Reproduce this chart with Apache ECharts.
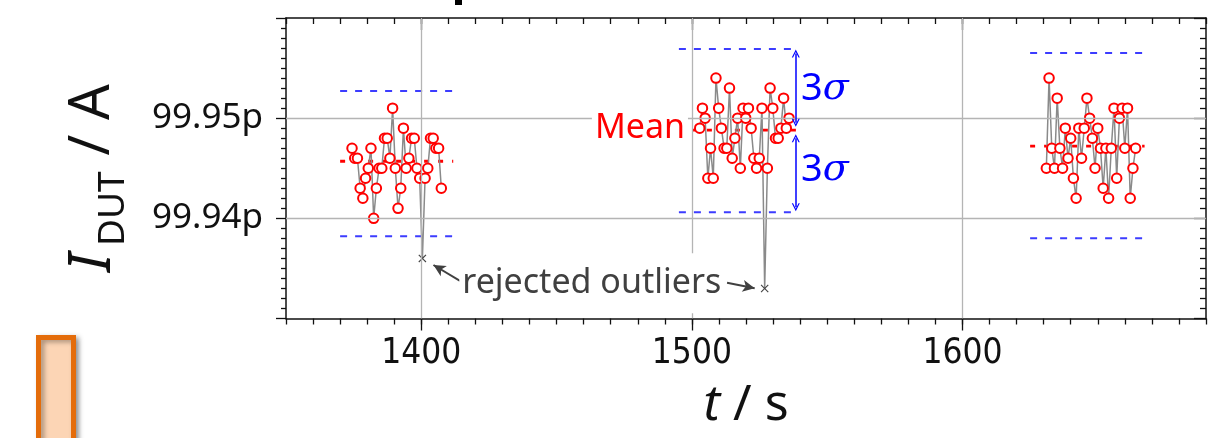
<!DOCTYPE html>
<html><head><meta charset="utf-8">
<script src="https://cdn.jsdelivr.net/npm/echarts@6/dist/echarts.min.js"></script>
<style>html,body{margin:0;padding:0;background:#fff}#c{width:1215px;height:438px}</style>
</head><body><div id="c"></div>
<script>
// ---------- data ----------
const xRange = [1350, 1690];
const yRange = [99.93, 99.96];
const xTickLabels = [1400, 1500, 1600];
const yTickValues = [99.94, 99.95];
const yTickLabels = ['99.94p', '99.95p'];

const t1 = [1374.4,1375.4,1376.4,1377.4,1378.4,1379.4,1380.4,1381.4,1382.4,1383.4,1384.4,1385.4,1386.4,1387.4,1388.4,1389.4,1390.4,1391.4,1392.4,1393.4,1394.4,1395.4,1396.4,1397.4,1398.4,1399.4,1400.4,1401.4,1402.4,1403.4,1404.4,1405.4,1406.4,1407.4];
const v1 = [99.947,99.946,99.946,99.943,99.942,99.944,99.945,99.947,99.940,99.943,99.945,99.945,99.948,99.948,99.946,99.951,99.945,99.941,99.943,99.949,99.945,99.946,99.948,99.948,99.945,99.944,99.936,99.944,99.945,99.948,99.948,99.947,99.947,99.943];
const t2 = [1502.9,1503.9,1504.9,1505.9,1506.9,1507.9,1508.9,1509.9,1510.9,1511.9,1512.9,1513.9,1514.9,1515.9,1516.9,1517.9,1518.9,1519.9,1520.9,1521.9,1522.9,1523.9,1524.9,1525.9,1526.9,1527.9,1528.9,1529.9,1530.9,1531.9,1532.9,1533.9,1534.9,1535.9];
const v2 = [99.949,99.951,99.950,99.944,99.947,99.944,99.954,99.951,99.949,99.947,99.947,99.953,99.946,99.948,99.950,99.945,99.951,99.950,99.951,99.949,99.946,99.945,99.946,99.951,99.933,99.945,99.953,99.951,99.948,99.948,99.949,99.952,99.949,99.950];
const t3 = [1631.0,1632.0,1633.0,1634.0,1635.0,1636.0,1637.0,1638.0,1639.0,1640.0,1641.0,1642.0,1643.0,1644.0,1645.0,1646.0,1647.0,1648.0,1649.0,1650.0,1651.0,1652.0,1653.0,1654.0,1655.0,1656.0,1657.0,1658.0,1659.0,1660.0,1661.0,1662.0,1663.0,1664.0];
const v3 = [99.945,99.954,99.947,99.945,99.952,99.947,99.945,99.949,99.946,99.948,99.944,99.942,99.949,99.946,99.949,99.952,99.950,99.948,99.945,99.949,99.947,99.943,99.947,99.942,99.947,99.951,99.944,99.950,99.951,99.947,99.951,99.942,99.945,99.947];
const outlierTimes = [1400.4, 1526.9];

const bandStart = [1370.0, 1495.2, 1625.0];
const bandEnd   = [1411.8, 1539.5, 1667.3];
const meanValues  = [99.9457, 99.9488, 99.9472];
const upperValues = [99.9527, 99.9569, 99.9565];
const lowerValues = [99.9382, 99.9406, 99.9380];

// annotation anchor points (data space)
const sigmaArrowT = 1538.4;
const sigmaUpperArrow = [99.95645, 99.94953];
const sigmaLowerArrow = [99.9480, 99.9411];
const outlierArrowLeft  = [[1414.3, 99.93376], [1404.5, 99.93534]];
const outlierArrowRight = [[1513.0, 99.93356], [1523.2, 99.93302]];
const meanLabelAt = [1480.8, 99.94895];
const sigmaLabelUpperAt = [1549.1, 99.9529];
const sigmaLabelLowerAt = [1549.1, 99.9448];
const outlierLabelAt = [1463.0, 99.93353];

// ---------- chart ----------
const FONT = "'Noto Sans', 'Open Sans', sans-serif";
const NARROW = "'Liberation Sans Narrow', 'DejaVu Sans Condensed', 'Roboto', sans-serif";
const chart = echarts.init(document.getElementById('c'));
const crossPath = 'path://M1,0L5,4L9,0L10,1L6,5L10,9L9,10L5,6L1,10L0,9L4,5L0,1Z';
const chevron = 'path://M0,10L5,0L10,10L8.4,10L5,3.2L1.6,10Z';

function clusterSeries(ts, vs) {
  return {
    type: 'line', xAxisIndex: 0, yAxisIndex: 0, z: 4,
    showAllSymbol: true, animation: false,
    lineStyle: { color: '#8a8a8a', width: 1.5 },
    itemStyle: { color: '#ff0000', borderWidth: 2 },
    symbol: 'emptyCircle', symbolSize: 9.5,
    data: ts.map((t, i) => {
      const out = outlierTimes.some(o => Math.abs(o - t) < 0.05);
      return out ? { value: [t, vs[i]], symbol: crossPath, symbolSize: 8,
                     itemStyle: { color: '#444', borderWidth: 0 } }
                 : { value: [t, vs[i]] };
    })
  };
}
function bandSeries(k, vals, color, dash, width) {
  return {
    type: 'line', xAxisIndex: 0, yAxisIndex: 0, z: 3, symbol: 'none', animation: false,
    lineStyle: { color: color, width: width, type: dash },
    data: [[bandStart[k], vals[k]], [bandEnd[k], vals[k]]]
  };
}

const series = [];
series.push({
  type: 'line', data: [], z: 1, silent: true,
  markLine: {
    silent: true, symbol: 'none', animation: false, label: { show: false },
    lineStyle: { color: '#b4b4b4', width: 1.3, type: 'solid' },
    data: xTickLabels.map(v => ({ xAxis: v })).concat(yTickValues.map(v => ({ yAxis: v })))
  }
});
for (let k = 0; k < 3; k++) {
  series.push(bandSeries(k, upperValues, '#3c3cff', [7, 8], 2));
  series.push(bandSeries(k, lowerValues, '#3c3cff', [7, 8], 2));
  series.push(bandSeries(k, meanValues, '#ff0000', [5, 9], 2.8));
}
series.push(clusterSeries(t1, v1));
series.push(clusterSeries(t2, v2));
series.push(clusterSeries(t3, v3));

const sigmaRich = {
  n: { fontSize: 38, color: '#0000ff', fontFamily: FONT },
  s: { fontSize: 38, color: '#0000ff', fontStyle: 'italic', fontFamily: "'DejaVu Serif', serif" }
};
series.push({
  type: 'line', data: [], z: 10, silent: true,
  markLine: {
    silent: true, animation: false, label: { show: false },
    data: [
      [{ coord: [sigmaArrowT, sigmaUpperArrow[0]], symbol: chevron, symbolSize: [8, 8], lineStyle: { color: '#0000ff', width: 1.5, type: 'solid' } },
       { coord: [sigmaArrowT, sigmaUpperArrow[1]], symbol: chevron, symbolSize: [8, 8] }],
      [{ coord: [sigmaArrowT, sigmaLowerArrow[0]], symbol: chevron, symbolSize: [8, 8], lineStyle: { color: '#0000ff', width: 1.5, type: 'solid' } },
       { coord: [sigmaArrowT, sigmaLowerArrow[1]], symbol: chevron, symbolSize: [8, 8] }],
      [{ coord: outlierArrowLeft[0], symbol: 'none', lineStyle: { color: '#404040', width: 2, type: 'solid' } },
       { coord: outlierArrowLeft[1], symbol: 'arrow', symbolSize: [9, 12] }],
      [{ coord: outlierArrowRight[0], symbol: 'none', lineStyle: { color: '#404040', width: 2, type: 'solid' } },
       { coord: outlierArrowRight[1], symbol: 'arrow', symbolSize: [9, 12] }]
    ]
  },
  markPoint: {
    silent: true, animation: false,
    symbol: 'rect', symbolSize: 1, itemStyle: { color: 'rgba(0,0,0,0)' },
    data: [
      { coord: meanLabelAt, label: { show: true, position: 'inside', formatter: 'Mean',
          color: '#ff0000', fontSize: 34, fontFamily: FONT, backgroundColor: '#fff', padding: [3, 3, 3, 3] } },
      { coord: sigmaLabelUpperAt, label: { show: true, position: 'inside', formatter: '{n|3}{s|σ}', rich: sigmaRich } },
      { coord: sigmaLabelLowerAt, label: { show: true, position: 'inside', formatter: '{n|3}{s|σ}', rich: sigmaRich } },
      { coord: outlierLabelAt, label: { show: true, position: 'inside', formatter: 'rejected outliers',
          color: '#404040', fontSize: 34, fontFamily: FONT, backgroundColor: '#fff', padding: [10, 3, 16, 3] } }
    ]
  }
});

const axisLine = { show: true, lineStyle: { color: '#111', width: 1.5 } };
const tickStyle = { color: '#111', width: 1.3 };

const option = {
  animation: false,
  backgroundColor: '#fff',
  grid: { left: 286, right: 9, top: 18, bottom: 119.5, containLabel: false },
  xAxis: [
    { type: 'value', position: 'bottom', min: xRange[0], max: xRange[1], interval: 10,
      axisLine: axisLine, axisTick: { show: true, length: 6, lineStyle: tickStyle },
      axisLabel: { show: false }, splitLine: { show: false },
      name: '{i|t} / s', nameLocation: 'middle', nameGap: 62,
      nameTextStyle: { fontSize: 50, fontFamily: FONT, color: '#111',
        rich: { i: { fontSize: 50, fontStyle: 'italic', fontFamily: FONT, color: '#111' } } } },
    { type: 'value', position: 'bottom', min: xRange[0], max: xRange[1], interval: 10,
      axisLine: { show: false },
      axisTick: { show: true, length: 12, lineStyle: tickStyle, customValues: xTickLabels },
      axisLabel: { show: true, customValues: xTickLabels, fontSize: 35, fontFamily: NARROW, color: '#111', margin: 18,
        formatter: v => String(Math.round(v)) },
      splitLine: { show: false } },
    { type: 'value', position: 'top', min: xRange[0], max: xRange[1], interval: 10,
      axisLine: axisLine, axisTick: { show: true, inside: true, length: 6, lineStyle: tickStyle },
      axisLabel: { show: false }, splitLine: { show: false } },
    { type: 'value', position: 'top', min: xRange[0], max: xRange[1], interval: 10,
      axisLine: { show: false },
      axisTick: { show: true, inside: true, length: 12, lineStyle: tickStyle, customValues: xTickLabels },
      axisLabel: { show: false }, splitLine: { show: false } }
  ],
  yAxis: [
    { type: 'value', position: 'left', min: yRange[0], max: yRange[1], interval: 0.01,
      axisLine: axisLine, axisTick: { show: true, length: 10, lineStyle: tickStyle },
      minorTick: { show: true, splitNumber: 10, length: 5, lineStyle: tickStyle },
      axisLabel: { show: true, customValues: yTickValues, fontSize: 35, fontFamily: FONT, color: '#111', margin: 23,
        formatter: v => { let b = 0; yTickValues.forEach((y, i) => { if (Math.abs(y - v) < Math.abs(yTickValues[b] - v)) b = i; }); return yTickLabels[b]; } },
      splitLine: { show: false } },
    { type: 'value', position: 'right', min: yRange[0], max: yRange[1], interval: 0.01,
      axisLine: axisLine, axisTick: { show: true, inside: true, length: 12, lineStyle: tickStyle },
      minorTick: { show: true, splitNumber: 10, length: 6, lineStyle: tickStyle },
      axisLabel: { show: false }, splitLine: { show: false } }
  ],
  graphic: [
    { type: 'rect', shape: { x: 455, y: 0, width: 7, height: 5 }, style: { fill: '#000' } },
    { type: 'rect', shape: { x: 38.5, y: 337.5, width: 35, height: 130 },
      style: { fill: '#fcd5b5', stroke: '#e46c0a', lineWidth: 5, shadowBlur: 5, shadowOffsetX: 3, shadowOffsetY: 2, shadowColor: 'rgba(0,0,0,0.35)' } },
    { type: 'text', x: 93, y: 272, rotation: Math.PI / 2,
      style: { text: 'I', fontSize: 58, fontStyle: 'italic', fontFamily: FONT, fill: '#111', align: 'left', verticalAlign: 'middle', textAlign: 'left', textVerticalAlign: 'middle' } },
    { type: 'text', x: 113, y: 246, rotation: Math.PI / 2,
      style: { text: 'DUT', fontSize: 37, fontFamily: FONT, fill: '#111', align: 'left', verticalAlign: 'middle', textAlign: 'left', textVerticalAlign: 'middle' } },
    { type: 'text', x: 93, y: 170, rotation: Math.PI / 2,
      style: { text: ' / A', fontSize: 56, fontFamily: FONT, fill: '#111', align: 'left', verticalAlign: 'middle', textAlign: 'left', textVerticalAlign: 'middle' } }
  ],
  series: series
};
chart.setOption(option);
</script></body></html>
